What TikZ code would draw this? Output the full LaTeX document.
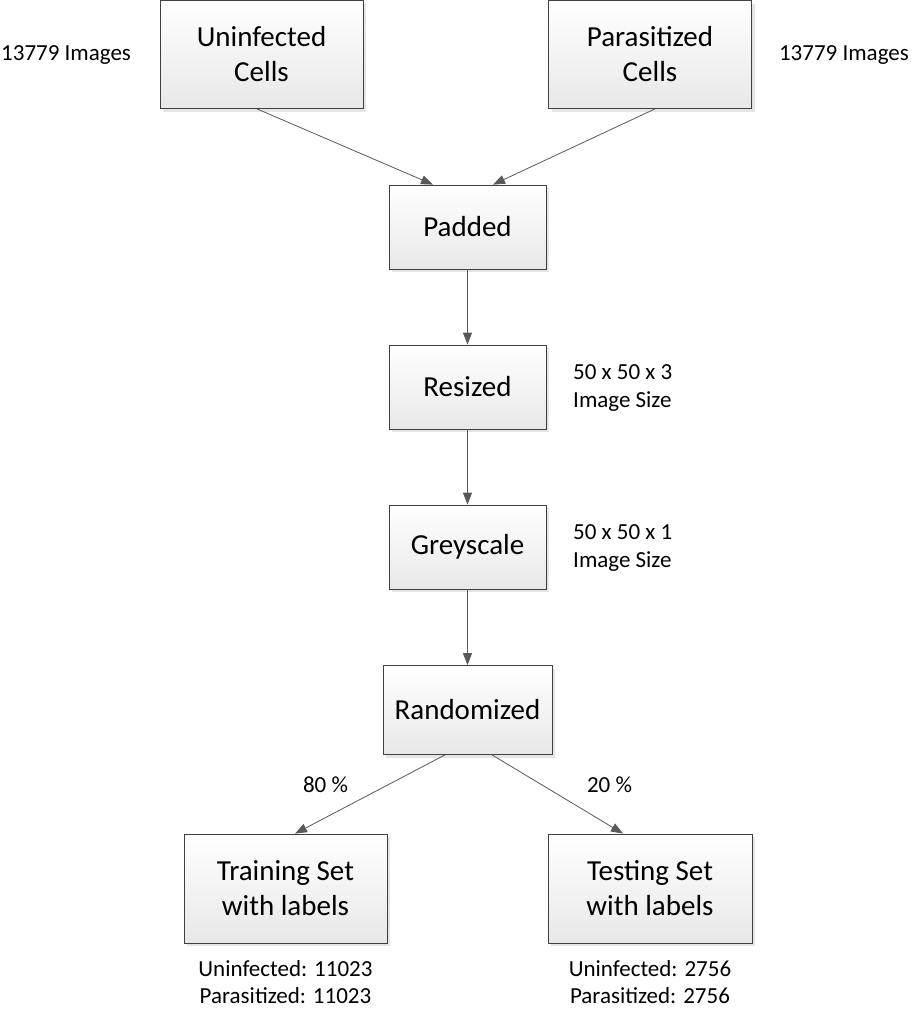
\documentclass[tikz,border=0pt]{standalone}
\usepackage{fontspec}
\setmainfont{Carlito}
\usetikzlibrary{arrows.meta,shadows}

\begin{document}
\begin{tikzpicture}[x=1pt, y=-1pt,
    box/.style={draw=black!75, line width=0.8pt, top color=white, bottom color=black!9,
        drop shadow={shadow xshift=3pt, shadow yshift=-3pt, fill=black!10, opacity=1},
        align=center, font=\fontsize{29}{35}\selectfont},
    lbl/.style={font=\fontsize{23}{27.5}\selectfont, align=left, inner sep=0pt},
    arr/.style={draw=black!65, line width=0.8pt, -{Triangle[length=12pt,width=9pt]}}]

    \useasboundingbox (0,0) rectangle (911,1009);

    % Define the boxes of the flow
    \node[box, minimum width=203pt, minimum height=108pt] (U) at (261.5,54.5) {Uninfected\\Cells};
    \node[box, minimum width=203pt, minimum height=108pt] (P) at (650,54.5) {Parasitized\\Cells};
    \node[box, minimum width=157pt, minimum height=84pt] (Pad) at (467.5,227) {Padded};
    \node[box, minimum width=157pt, minimum height=84pt] (Res) at (467.5,387) {Resized};
    \node[box, minimum width=157pt, minimum height=84pt] (Grey) at (467.5,547) {Greyscale};
    \node[box, minimum width=169pt, minimum height=89pt] (Rand) at (467.5,710) {Randomized};
    \node[box, minimum width=203pt, minimum height=109pt] (Train) at (285.5,888.5) {Training Set\\with labels};
    \node[box, minimum width=204pt, minimum height=109pt] (Test) at (650,888.5) {Testing Set\\with labels};

    % Draw the arrows
    \draw[arr] ([xshift=-4.5pt]U.south) -- ([xshift=-34.5pt]Pad.north);
    \draw[arr] ([xshift=5pt]P.south) -- ([xshift=25.5pt]Pad.north);
    \draw[arr] (Pad) -- (Res);
    \draw[arr] (Res) -- (Grey);
    \draw[arr] (Grey) -- (Rand);
    \draw[arr] ([xshift=-22.5pt]Rand.south) -- ([xshift=9.5pt]Train.north);
    \draw[arr] ([xshift=24.5pt]Rand.south) -- ([xshift=-27pt]Test.north);

    % Add the side labels
    \node[lbl, anchor=west] (nU) at (1,55.5) {13779 Images};
    \node[lbl, anchor=east] (nP) at (909,55.5) {13779 Images};
    \node[lbl, anchor=west] (sRes) at (573,388) {50 x 50 x 3\\Image Size};
    \node[lbl, anchor=west] (sGrey) at (573,548) {50 x 50 x 1\\Image Size};
    \node[lbl] (p80) at (325.5,785) {80 \%};
    \node[lbl] (p20) at (609.5,785) {20 \%};

    % Add the counts below the sets
    \node[lbl, align=center] (cTrain) at (285.5,982) {Uninfected: 11023\\Parasitized: 11023};
    \node[lbl, align=center] (cTest) at (650,982) {Uninfected: 2756\\Parasitized: 2756};

\end{tikzpicture}
\end{document}
